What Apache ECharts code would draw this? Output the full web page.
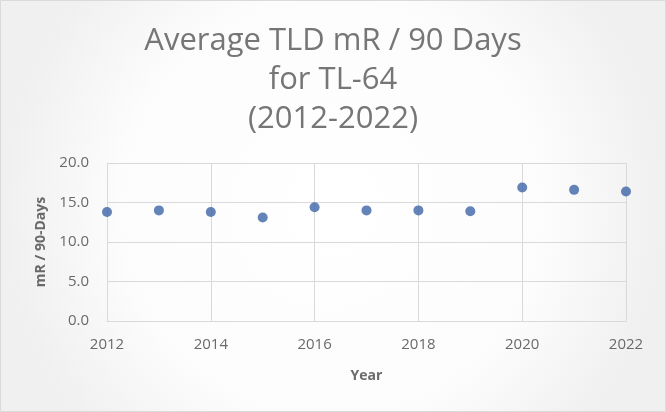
<!DOCTYPE html>
<html>
<head>
<meta charset="utf-8">
<script src="https://cdn.jsdelivr.net/npm/echarts@6/dist/echarts.min.js"></script>
<style>
  html, body { margin: 0; padding: 0; background: #ffffff; }
  #chart { width: 666px; height: 412px; }
</style>
</head>
<body>
<div id="chart"></div>
<script>
// Average TLD readings per 90-day period at station TL-64
const years = [2012, 2013, 2014, 2015, 2016, 2017, 2018, 2019, 2020, 2021, 2022];
const mR90 = [13.8, 14.0, 13.8, 13.1, 14.4, 14.0, 14.0, 13.9, 16.9, 16.6, 16.4];

const titleText = 'Average TLD mR / 90 Days\nfor TL-64\n(2012-2022)';
const xAxisName = 'Year';
const yAxisName = 'mR / 90-Days';

const points = years.map((y, i) => [y, mR90[i]]);

const chart = echarts.init(document.getElementById('chart'), null, { renderer: 'canvas' });

const labelColor = '#6a6a6a';

chart.setOption({
  animation: false,
  backgroundColor: {
    type: 'radial', x: 0.5, y: 0.5, r: 0.8,
    colorStops: [
      { offset: 0, color: '#ffffff' },
      { offset: 0.65, color: '#fcfcfc' },
      { offset: 1, color: '#f0f0f0' }
    ]
  },
  graphic: [{
    type: 'rect',
    silent: true,
    shape: { x: 0.5, y: 0.5, width: 665, height: 411 },
    style: { fill: 'none', stroke: '#dadada', lineWidth: 1 }
  }],
  title: {
    text: titleText,
    left: 'center',
    top: 17,
    textStyle: {
      fontFamily: 'Open Sans',
      fontWeight: 'normal',
      fontSize: 31,
      lineHeight: 39,
      color: '#767676'
    }
  },
  grid: { left: 107, right: 40, top: 163, bottom: 91, containLabel: false },
  xAxis: {
    type: 'value',
    min: 2012,
    max: 2022,
    interval: 2,
    name: xAxisName,
    nameLocation: 'middle',
    nameGap: 48,
    nameTextStyle: { fontFamily: 'Open Sans', fontWeight: 'bold', fontSize: 14, color: labelColor },
    axisLine: { show: true, lineStyle: { color: '#d9d9d9' } },
    axisTick: { show: false },
    axisLabel: {
      fontFamily: 'Open Sans', fontSize: 15, color: labelColor, margin: 16,
      formatter: v => String(v)
    },
    splitLine: { show: true, lineStyle: { color: '#d9d9d9', width: 1 } }
  },
  yAxis: {
    type: 'value',
    min: 0,
    max: 20,
    interval: 5,
    name: yAxisName,
    nameLocation: 'middle',
    nameGap: 56,
    nameRotate: 90,
    nameTextStyle: { fontFamily: 'Open Sans', fontWeight: 'bold', fontSize: 14, color: labelColor },
    axisLine: { show: true, lineStyle: { color: '#d9d9d9' } },
    axisTick: { show: false },
    axisLabel: {
      fontFamily: 'Open Sans', fontSize: 15, color: labelColor, margin: 18,
      formatter: v => v.toFixed(1)
    },
    splitLine: { show: true, lineStyle: { color: '#d9d9d9', width: 1 } }
  },
  series: [{
    type: 'scatter',
    data: points,
    symbol: 'circle',
    symbolSize: 10,
    itemStyle: { color: '#3d64a8' }
  }]
});
</script>
</body>
</html>
